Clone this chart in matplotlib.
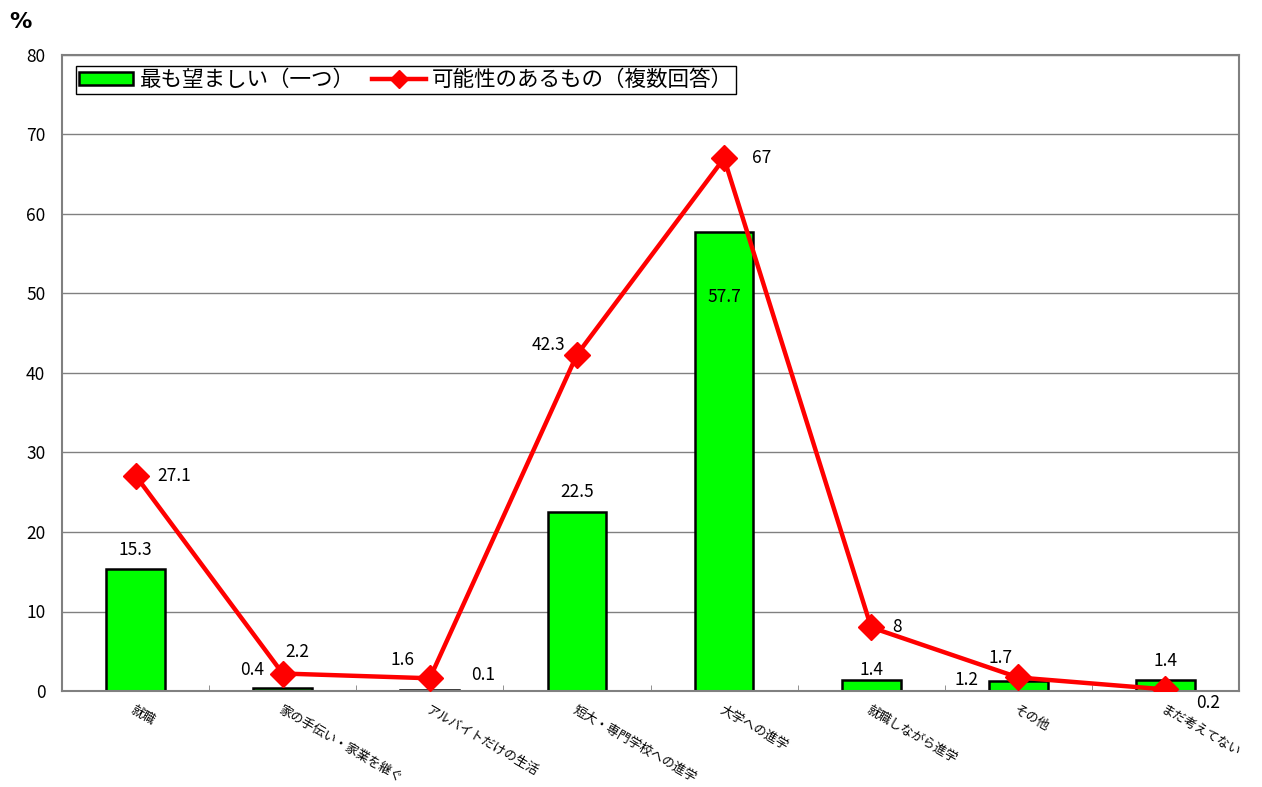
import matplotlib
matplotlib.use("Agg")
import matplotlib.pyplot as plt
from matplotlib.patches import Patch
from matplotlib.lines import Line2D

plt.rcParams['font.family'] = ['Noto Sans CJK JP', 'DejaVu Sans']

categories = ["就職", "家の手伝い・家業を継ぐ", "アルバイトだけの生活", "短大・専門学校への進学",
              "大学への進学", "就職しながら進学", "その他", "まだ考えてない"]
most_desired = [15.3, 0.4, 0.1, 22.5, 57.7, 1.4, 1.2, 1.4]
possible = [27.1, 2.2, 1.6, 42.3, 67, 8, 1.7, 0.2]
series_names = ["最も望ましい（一つ）", "可能性のあるもの（複数回答）"]
y_ticks = [0, 10, 20, 30, 40, 50, 60, 70, 80]

# label offsets in pixels (dx, dy) relative to the data point
bar_offsets = [(0, 19), (-31, 18), (53, 15), (0, 20), (0, -65), (0, 10), (-52, 1), (0, 19)]
line_offsets = [(39, 0), (15, 22), (-27, 18), (-28, 10), (38, 0), (26, 0), (-18, 19), (43, -14)]

fig = plt.figure(figsize=(12.62, 7.87), dpi=100)
ax = fig.add_axes([62 / 1262, 1 - 691 / 787, (1239 - 62) / 1262, (691 - 55) / 787])

x = list(range(len(categories)))
ax.set_axisbelow(True)
ax.yaxis.grid(True, color="#808080", linewidth=1.0)
ax.bar(x, most_desired, width=0.4, color="#00FF00", edgecolor="black", linewidth=1.8, zorder=2)
ax.plot(x, possible, color="#FF0000", linewidth=3.2, marker="D", markersize=13,
        markerfacecolor="#FF0000", markeredgecolor="#FF0000", zorder=3)

px = 0.72
for i in x:
    dx, dy = bar_offsets[i]
    ax.annotate(f"{most_desired[i]:g}", (i, most_desired[i]), xytext=(dx * px, dy * px),
                textcoords="offset points", ha="center", va="center", fontsize=12.5, zorder=4)
    dx, dy = line_offsets[i]
    ax.annotate(f"{possible[i]:g}", (i, possible[i]), xytext=(dx * px, dy * px),
                textcoords="offset points", ha="center", va="center", fontsize=12.5, zorder=4)

ax.set_xlim(-0.5, len(categories) - 0.5)
ax.set_ylim(0, 80)
ax.set_yticks(y_ticks)
ax.tick_params(axis="y", length=0, pad=12, labelsize=12.5)

ax.set_xticks([i + 0.5 for i in x[:-1]], minor=True)
ax.set_xticks(x)
ax.set_xticklabels(categories, rotation=-30, ha="left", va="top", rotation_mode="anchor", fontsize=9.2)
ax.tick_params(axis="x", which="major", length=0, pad=9)
ax.tick_params(axis="x", which="minor", length=4, direction="in", color="#808080")

for s in ["left", "right", "top", "bottom"]:
    ax.spines[s].set_color("#808080")
    ax.spines[s].set_linewidth(1.5)

fig.text(20 / 1262, 1 - 22 / 787, "%", fontsize=16, fontweight="bold", ha="center", va="center",
         family="DejaVu Sans")

handles = [Patch(facecolor="#00FF00", edgecolor="black", linewidth=1.8),
           Line2D([0], [0], color="#FF0000", linewidth=3.2, marker="D", markersize=9)]
leg = ax.legend(handles, series_names, ncol=2, loc="upper left", bbox_to_anchor=(0.012, 0.983),
                borderaxespad=0, fontsize=15.5, frameon=True, fancybox=False, edgecolor="black",
                framealpha=1, handlelength=2.5, handleheight=0.6, columnspacing=0.8,
                handletextpad=0.3, borderpad=0.15)
leg.get_frame().set_linewidth(1.0)

fig.savefig("out.png", dpi=100)
